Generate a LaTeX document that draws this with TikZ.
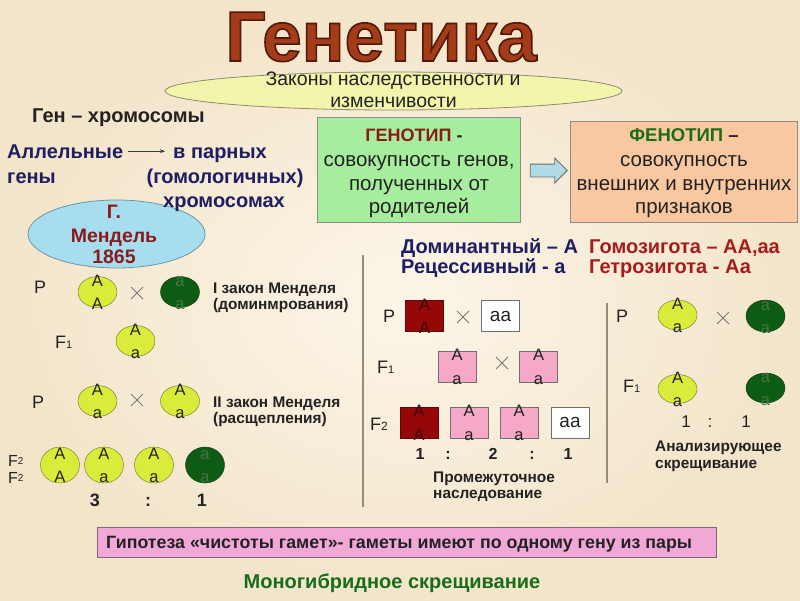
\documentclass[tikz,border=0pt]{standalone}
\usepackage{fontspec}
\setmainfont{Liberation Sans}
\usetikzlibrary{shapes.geometric,shapes.arrows,arrows.meta,calc}
\definecolor{bgin}{RGB}{252,245,232}
\definecolor{bgout}{RGB}{243,229,202}
\definecolor{titlec}{RGB}{163,60,24}
\definecolor{ellc}{RGB}{243,246,170}
\definecolor{elld}{RGB}{140,140,110}
\definecolor{navy}{RGB}{30,30,100}
\definecolor{mred}{RGB}{140,26,26}
\definecolor{hred}{RGB}{165,28,28}
\definecolor{skyc}{RGB}{166,222,240}
\definecolor{skyd}{RGB}{110,150,165}
\definecolor{genoc}{RGB}{166,238,158}
\definecolor{fenoc}{RGB}{250,200,160}
\definecolor{fgreen}{RGB}{24,110,24}
\definecolor{yelc}{RGB}{218,236,58}
\definecolor{yeld}{RGB}{110,110,40}
\definecolor{drkc}{RGB}{14,92,20}
\definecolor{drkd}{RGB}{10,60,12}
\definecolor{drkl}{RGB}{70,118,70}
\definecolor{redc}{RGB}{150,8,8}
\definecolor{redd}{RGB}{90,10,10}
\definecolor{redl}{RGB}{60,6,6}
\definecolor{pnkc}{RGB}{245,168,200}
\definecolor{hypc}{RGB}{242,168,214}
\definecolor{hypd}{RGB}{130,100,120}
\definecolor{txt}{RGB}{34,34,34}
\definecolor{linec}{RGB}{150,140,122}
\definecolor{arrc}{RGB}{176,218,230}
\definecolor{boxd}{RGB}{140,140,140}
\definecolor{sqd}{RGB}{110,110,110}
\definecolor{crsc}{RGB}{120,120,120}
\definecolor{arrd}{RGB}{60,60,60}
\newcommand\fsz[1]{\fontsize{#1}{#1}\selectfont}
\newcommand\outl[1]{\special{pdf:code 2 Tr 1.6 w 0.33 0.09 0.03 RG}#1\special{pdf:code 0 Tr}}
\newcommand\gene[6]{%
  \node[#3] (#1) at (#2) {};
  \node[gl,#4] (#1t) at ([yshift=6pt]#1.center) {#5};
  \node[gl,#4] (#1b) at ([yshift=-17.5pt]#1.center) {#6};}
\newcommand\crossat[2]{%
  \coordinate (#1) at (#2);
  \draw[crs] ([xshift=-6pt,yshift=-6pt]#1) -- ([xshift=6pt,yshift=6pt]#1)
             ([xshift=-6pt,yshift=6pt]#1) -- ([xshift=6pt,yshift=-6pt]#1);}
\tikzset{
  t/.style={inner sep=0pt, anchor=base, text=txt, font=\fsz{17}},
  tw/.style={t, anchor=base west},
  tb/.style={t, font=\fsz{20}\bfseries},
  twb/.style={tw, font=\fsz{20}\bfseries},
  body/.style={t, font=\fsz{20.5}},
  lbl/.style={tw, font=\fsz{18}},
  sml/.style={tw, font=\fsz{15.4}\bfseries},
  gl/.style={inner sep=0pt, anchor=base, font=\fsz{16.5}, text=txt},
  yl/.style={text=txt}, dl/.style={text=drkl}, rl/.style={text=redl},
  yov/.style={ellipse, draw=yeld, fill=yelc, minimum width=39, minimum height=31, inner sep=0},
  dov/.style={ellipse, draw=drkd, fill=drkc, minimum width=39, minimum height=31, inner sep=0},
  sqbox/.style={rectangle, draw=sqd, minimum width=38, minimum height=31, inner sep=0},
  rsq/.style={sqbox, fill=redc, draw=redd},
  psq/.style={sqbox, fill=pnkc},
  wsq/.style={sqbox, fill=white},
  crs/.style={draw=crsc, line width=0.8pt},
  divl/.style={draw=linec, line width=1.5pt},
  boxst/.style={rectangle, draw=boxd, line width=0.8pt, inner sep=0},
}
\begin{document}
\begin{tikzpicture}[x=1pt,y=-1pt]
\useasboundingbox (0,0) rectangle (800,600);
\shade[inner color=bgin,outer color=bgout] (0,0) rectangle (800,600);

% title
\node[inner sep=0pt, anchor=base, text=titlec, font=\fsz{71}\bfseries] (title) at (381,61) {\outl{Генетика}};
\node[ellipse, draw=elld, line width=0.8pt, fill=ellc, minimum width=457, minimum height=38, inner sep=0] (laws) at (393.5,91) {};
\node[body, font=\fsz{19.5}] (laws1) at (393,85) {Законы наследственности и};
\node[body, font=\fsz{19.5}] (laws2) at (393.5,107) {изменчивости};

% gene - chromosomes
\node[twb] (genchr) at (32,122) {Ген – хромосомы};
\node[ellipse, draw=skyd, line width=0.8pt, fill=skyc, minimum width=177, minimum height=68, inner sep=0] (mendel) at (116.5,234) {};
\node[twb, text=navy] (allel) at (7,158) {Аллельные};
\node[twb, text=navy] (geny) at (7,183) {гены};
\node[tb, text=navy] (vpar) at (220,158) {в парных};
\node[tb, text=navy] (homol) at (225,183) {(гомологичных)};
\node[tb, text=navy] (chrom) at (224,207) {хромосомах};
\draw[draw=arrd, line width=0.8pt, -{Stealth[length=5pt,width=4pt]}] ([xshift=5pt]allel.east) -- ([xshift=-8pt]allel.east -| vpar.west);
\node[tb, text=mred, font=\fsz{19.5}\bfseries] (mend1) at (114,218) {Г.};
\node[tb, text=mred, font=\fsz{19.5}\bfseries] (mend2) at (114,242) {Мендель};
\node[tb, text=mred, font=\fsz{19.5}\bfseries] (mend3) at (114,263) {1865};

% genotype / phenotype
\node[boxst, fill=genoc, minimum width=203, minimum height=105] (geno) at (419,169.5) {};
\node[tb, font=\fsz{18}\bfseries] (geno1) at (414,141) {\textcolor{mred}{ГЕНОТИП} -};
\node[body] (geno2) at (419,166) {совокупность генов,};
\node[body] (geno3) at (419,190) {полученных от};
\node[body] (geno4) at (419,213) {родителей};
\node[boxst, fill=fenoc, minimum width=227, minimum height=101] (feno) at (684,171.5) {};
\node[tb, font=\fsz{18.5}\bfseries] (feno1) at (684,141) {\textcolor{fgreen}{ФЕНОТИП} –};
\node[body] (feno2) at (684,166) {совокупность};
\node[body] (feno3) at (684,190) {внешних и внутренних};
\node[body] (feno4) at (684,213) {признаков};
\node[single arrow, draw=sqd, line width=0.8pt, fill=arrc, minimum height=37, minimum width=24, single arrow head extend=6pt, inner sep=0pt, inner ysep=6pt] (garr) at ($(geno.east)!0.5!(feno.west)$) {};

% dominant / recessive
\node[twb, text=navy] (dom) at (401,253) {Доминантный – А};
\node[twb, text=navy] (rec) at (401,273) {Рецессивный - а};
\node[twb, text=hred] (homo) at (589,253) {Гомозигота – АА,аа};
\node[twb, text=hred] (hete) at (589,273) {Гетрозигота - Аа};

% dividers
\coordinate (d1t) at (363,255); \coordinate (d1b) at (363,507);
\coordinate (d2t) at (607,303); \coordinate (d2b) at (607,483);
\draw[divl] (d1t) -- (d1b);
\draw[divl] (d2t) -- (d2b);

% left panel
\node[lbl] (lp1) at (34,293) {Р};
\gene{l1}{97.5,292}{yov}{yl}{А}{А}
\crossat{lx1}{137,293}
\gene{l2}{180,292}{dov}{dl}{а}{а}
\node[sml] (law1a) at (213,293) {I закон Менделя};
\node[sml] (law1b) at (213,309) {(доминмрования)};
\node[lbl] (lf1) at (55,348) {F{\fsz{11}1}};
\gene{l3}{135.5,341}{yov}{yl}{А}{а}
\node[lbl] (lp2) at (32,408) {Р};
\gene{l4}{97.5,401}{yov}{yl}{А}{а}
\crossat{lx2}{137,400}
\gene{l5}{180,401}{yov}{yl}{А}{а}
\node[sml] (law2a) at (213,407) {II закон Менделя};
\node[sml] (law2b) at (213,423) {(расщепления)};
\node[tw, font=\fsz{16}] (lf2a) at (8,466) {F{\fsz{10}\raisebox{2pt}{2}}};
\node[tw, font=\fsz{16}] (lf2b) at (8,483) {F{\fsz{10}\raisebox{2pt}{2}}};
\gene{l6}{60,465}{yov, minimum height=36}{yl}{А}{А}
\gene{l7}{104,465}{yov, minimum height=36}{yl}{А}{а}
\gene{l8}{154,465}{yov, minimum height=36}{yl}{А}{а}
\gene{l9}{205,465}{dov, minimum height=36}{dl}{а}{а}
\node[tb, font=\fsz{18}\bfseries] (lr1) at (95,506) {3};
\node[tb, font=\fsz{18}\bfseries] (lr2) at (148,506) {:};
\node[tb, font=\fsz{18}\bfseries] (lr3) at (202,506) {1};

% middle panel
\node[lbl] (mp) at (383,322) {Р};
\gene{m1}{424.5,316}{rsq}{rl}{А}{А}
\crossat{mx1}{463,317}
\node[wsq] (m2) at (500.5,316) {};
\node[t, font=\fsz{19}] (m2t) at ([yshift=-5pt]m2.center) {аа};
\node[lbl] (mf1) at (377,373) {F{\fsz{11}1}};
\gene{m3}{457,366.5}{psq}{yl}{А}{а}
\crossat{mx2}{502,363}
\gene{m4}{538.5,366.5}{psq}{yl}{А}{а}
\node[lbl] (mf2) at (370,430) {F{\fsz{12}2}};
\gene{m5}{419,422.5}{rsq}{rl}{А}{А}
\gene{m6}{469,422.5}{psq}{yl}{А}{а}
\gene{m7}{519,422.5}{psq}{yl}{А}{а}
\node[wsq] (m8) at (570,422.5) {};
\node[t, font=\fsz{19}] (m8t) at ([yshift=-5pt]m8.center) {аа};
\node[tb, font=\fsz{16}\bfseries] (mr1) at (420,459) {1};
\node[tb, font=\fsz{16}\bfseries] (mr2) at (448,459) {:};
\node[tb, font=\fsz{16}\bfseries] (mr3) at (493,459) {2};
\node[tb, font=\fsz{16}\bfseries] (mr4) at (532,459) {:};
\node[tb, font=\fsz{16}\bfseries] (mr5) at (568,459) {1};
\node[sml] (inter1) at (433,482) {Промежуточное};
\node[sml] (inter2) at (433,498) {наследование};

% right panel
\node[lbl] (rp) at (616,322) {Р};
\gene{r1}{677.5,315}{yov, minimum height=30}{yl}{А}{а}
\crossat{rx}{723,318}
\gene{r2}{765.5,316}{dov, minimum height=32}{dl}{а}{а}
\node[lbl] (rf1) at (623,392) {F{\fsz{11}1}};
\gene{r3}{677.5,389}{yov, minimum height=29}{yl}{А}{а}
\gene{r4}{765.5,388}{dov, minimum height=30}{dl}{а}{а}
\node[t, font=\fsz{17}] (rr1) at (686,427) {1};
\node[t, font=\fsz{17}] (rr2) at (710,427) {:};
\node[t, font=\fsz{17}] (rr3) at (746,427) {1};
\node[sml] (anal1) at (655,451) {Анализирующее};
\node[sml] (anal2) at (655,468) {скрещивание};

% bottom
\node[boxst, draw=hypd, fill=hypc, minimum width=619, minimum height=30] (hyp) at (406.5,542) {};
\node[twb, font=\fsz{17.8}\bfseries] (hypt) at (106,548) {Гипотеза «чистоты гамет»- гаметы имеют по одному гену из пары};
\node[tb, text=fgreen] (mono) at (392,588) {Моногибридное скрещивание};
\end{tikzpicture}
\end{document}
